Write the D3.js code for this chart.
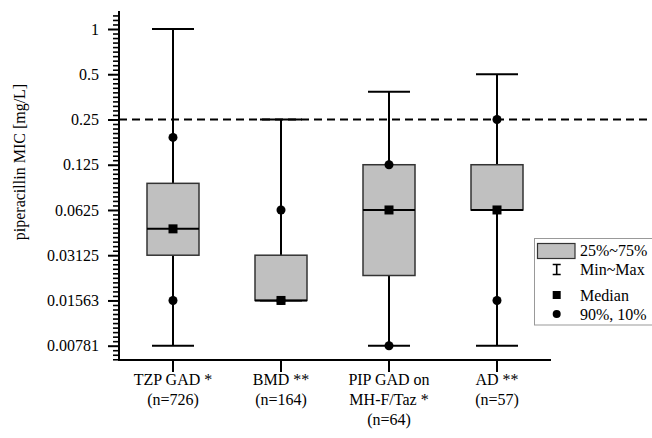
<!DOCTYPE html>
<html><head><meta charset="utf-8">
<script src="https://cdn.jsdelivr.net/npm/d3@7"></script>
<style>body{margin:0;background:#fff}svg{display:block}svg text{font-family:'Liberation Serif','DejaVu Serif',serif !important;fill:#000}</style>
</head><body>
<svg id="c" width="652" height="438"></svg>
<script>
const categories = ["TZP GAD *\n(n=726)", "BMD **\n(n=164)", "PIP GAD on\nMH-F/Taz *\n(n=64)", "AD **\n(n=57)"];
const minVals    = [0.0078125, 0.015625, 0.0078125, 0.0078125];
const p10Vals    = [0.015625, 0.015625, 0.0078125, 0.015625];
const q1Vals     = [0.03125, 0.015625, 0.0229, 0.0625];
const medianVals = [0.0468, 0.015625, 0.0625, 0.0625];
const q3Vals     = [0.094, 0.03125, 0.125, 0.125];
const p90Vals    = [0.19, 0.0625, 0.125, 0.25];
const maxVals    = [1, 0.25, 0.383, 0.5];
const yTickVals  = [1, 0.5, 0.25, 0.125, 0.0625, 0.03125, 0.015625, 0.0078125];
const yTickLabels= ["1", "0.5", "0.25", "0.125", "0.0625", "0.03125", "0.01563", "0.00781"];
const refLine    = 0.25;
const legendLabels = ["25%~75%", "Min~Max", "Median", "90%, 10%"];

const FONT = "'Liberation Serif','DejaVu Serif',serif";
const svg = d3.select("#c");
const x0 = 119, x1 = 551, yBase = 360;
const y = d3.scaleLog().base(2).domain([0.0078125, 1]).range([345.7, 29]);
const x = d3.scaleBand().domain(d3.range(categories.length)).range([x0, x1]);
const cx = i => x(i) + x.bandwidth() / 2;
const yTop = y.invert(11);

// minor ticks (every 1/10 octave)
const minor = [];
for (let k = Math.ceil(Math.log2(y.invert(yBase)) * 10); k <= Math.floor(Math.log2(yTop) * 10); k++) {
  if (k % 10 !== 0) minor.push(Math.pow(2, k / 10));
}
const gMinor = svg.append("g").attr("transform", `translate(${x0},0)`)
  .call(d3.axisLeft(y).tickValues(minor).tickSize(6).tickFormat(""));
gMinor.select(".domain").remove();
gMinor.selectAll("line").attr("stroke", "#000").attr("stroke-width", 1.6);

const gY = svg.append("g").attr("transform", `translate(${x0},0)`)
  .call(d3.axisLeft(y).tickValues(yTickVals).tickSize(11).tickPadding(9)
    .tickFormat((d, i) => yTickLabels[i]));
gY.attr("font-family", FONT).attr("font-size", 16);
gY.select(".domain").remove();
gY.selectAll("line").attr("stroke", "#000").attr("stroke-width", 2);

svg.append("line").attr("x1", x0).attr("x2", x0).attr("y1", 11).attr("y2", yBase + 1)
  .attr("stroke", "#000").attr("stroke-width", 2);

// x axis
const gX = svg.append("g").attr("transform", `translate(0,${yBase})`)
  .call(d3.axisBottom(x).tickSize(12).tickFormat(""));
gX.select(".domain").remove();
gX.selectAll("line").attr("stroke", "#000").attr("stroke-width", 2);
svg.append("line").attr("x1", x0 - 1).attr("x2", x1).attr("y1", yBase).attr("y2", yBase)
  .attr("stroke", "#000").attr("stroke-width", 2);

categories.forEach((c, i) => {
  const t = svg.append("text").attr("text-anchor", "middle").attr("font-size", 16).attr("font-family", FONT);
  c.split("\n").forEach((line, j) => {
    t.append("tspan").attr("x", cx(i)).attr("y", 385 + j * 20).text(line);
  });
});

// y title
svg.append("text").attr("transform", "translate(25,162) rotate(-90)").attr("font-family", FONT)
  .attr("text-anchor", "middle").attr("font-size", 16).text("piperacillin MIC [mg/L]");

// reference dashed line
svg.append("line").attr("x1", x0).attr("x2", 652).attr("y1", y(refLine)).attr("y2", y(refLine))
  .attr("stroke", "#000").attr("stroke-width", 2).attr("stroke-dasharray", "8,5");

const bw = 52, cw = 42, ms = 9, r = 4.5;
const g = svg.append("g");
categories.forEach((c, i) => {
  const X = cx(i);
  g.append("line").attr("x1", X).attr("x2", X).attr("y1", y(maxVals[i])).attr("y2", y(minVals[i]))
    .attr("stroke", "#000").attr("stroke-width", 2);
  [maxVals[i], minVals[i]].forEach(v => g.append("line")
    .attr("x1", X - cw / 2).attr("x2", X + cw / 2).attr("y1", y(v)).attr("y2", y(v))
    .attr("stroke", "#000").attr("stroke-width", 2));
  g.append("rect").attr("x", X - bw / 2).attr("width", bw)
    .attr("y", y(q3Vals[i])).attr("height", y(q1Vals[i]) - y(q3Vals[i]))
    .attr("fill", "#c0c0c0").attr("stroke", "#333").attr("stroke-width", 1.5);
  g.append("line").attr("x1", X - bw / 2).attr("x2", X + bw / 2)
    .attr("y1", y(medianVals[i])).attr("y2", y(medianVals[i]))
    .attr("stroke", "#000").attr("stroke-width", 2);
  [p90Vals[i], p10Vals[i]].forEach(v => g.append("circle")
    .attr("cx", X).attr("cy", y(v)).attr("r", r).attr("fill", "#000"));
  g.append("rect").attr("x", X - ms / 2).attr("y", y(medianVals[i]) - ms / 2)
    .attr("width", ms).attr("height", ms).attr("fill", "#000");
});

// legend
const L = svg.append("g").attr("font-family", FONT);
L.append("rect").attr("x", 534.5).attr("y", 238.5).attr("width", 130).attr("height", 86.5)
  .attr("fill", "#fff").attr("stroke", "#999").attr("stroke-width", 1);
const lx = 556.7, ly = [250.5, 269.5, 295, 314];
L.append("rect").attr("x", 537.5).attr("y", 243.5).attr("width", 37.5).attr("height", 15)
  .attr("fill", "#c0c0c0").attr("stroke", "#333").attr("stroke-width", 1.2);
L.append("path").attr("d", `M${lx - 4},264.5H${lx + 4}M${lx},264.5V274.5M${lx - 4},274.5H${lx + 4}`)
  .attr("stroke", "#000").attr("stroke-width", 1.6).attr("fill", "none");
L.append("rect").attr("x", lx - 4).attr("y", 291).attr("width", 8).attr("height", 8).attr("fill", "#000");
L.append("circle").attr("cx", lx).attr("cy", 314).attr("r", 4).attr("fill", "#000");
legendLabels.forEach((t, i) => L.append("text").attr("x", 580).attr("y", ly[i])
  .attr("dy", "0.35em").attr("font-size", 16).text(t));
</script>
</body></html>
